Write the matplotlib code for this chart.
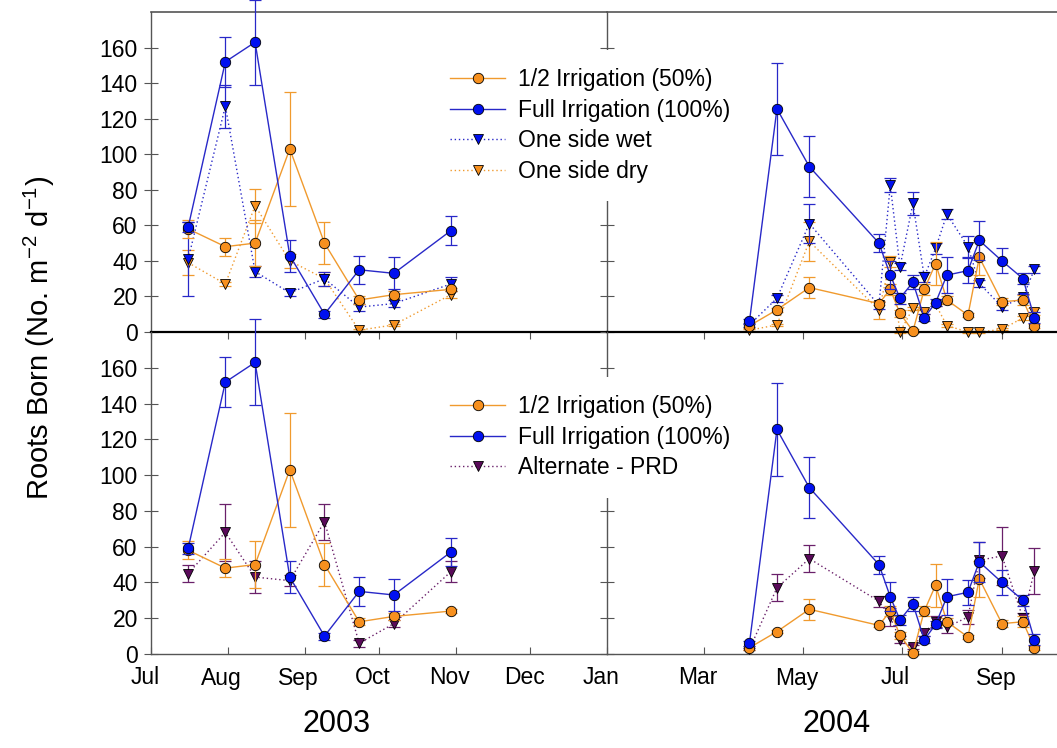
import numpy as np
import pandas as pd
import matplotlib
matplotlib.use("Agg")
import matplotlib.pyplot as plt
from matplotlib.transforms import ScaledTranslation

plt.rcParams['font.family'] = ['Liberation Sans', 'DejaVu Sans']
plt.rcParams['mathtext.fontset'] = 'custom'
plt.rcParams['mathtext.rm'] = 'Liberation Sans'
plt.rcParams['mathtext.default'] = 'regular'

# ---------------- data ----------------
dates_2003 = pd.to_datetime(['2003-07-16', '2003-07-31', '2003-08-12', '2003-08-26',
                             '2003-09-09', '2003-09-23', '2003-10-07', '2003-10-30'])
half_2003 = [58, 48, 50, 103, 50, 18, 21, 24]
half_2003_err = [5, 5, 13, 32, 12, 2, 2, 1]
full_2003 = [59, 152, 163, 43, 10, 35, 33, 57]
full_2003_err = [3, 14, 24, 9, 2, 8, 9, 8]
wet_2003 = [41, 127, 34, 22, 30, 14, 16, 27]
wet_2003_err = [21, 12, 3, 2, 4, 2, 2, 4]
dry_2003 = [39, 27, 71, 40, 30, 1, 4, 21]
dry_2003_err = [7, 1, 9.5, 4, 4, 0.5, 0.5, 2]
prd_2003 = [45, 68, 43, 41, 74, 6, 17, 46]
prd_2003_err = [5, 16, 9, 3, 10, 2, 2, 6]

dates_2004 = pd.to_datetime(['2004-03-29', '2004-04-15', '2004-05-05', '2004-06-17',
                             '2004-06-24', '2004-06-30', '2004-07-08', '2004-07-15',
                             '2004-07-22', '2004-07-29', '2004-08-11', '2004-08-18',
                             '2004-09-01', '2004-09-14', '2004-09-21'])
half_2004 = [3.5, 12.5, 25, 16, 24, 10.5, 0.5, 24, 38.5, 18, 9.5, 42, 17, 18, 3.5]
half_2004_err = [1, 1, 6, 1, 3, 2, 1, 3, 12, 2, 1, 10, 2, 3, 1]
full_2004 = [6, 125.5, 93, 50, 32, 19, 28, 8, 16.5, 32, 34.5, 51.5, 40, 30, 8]
full_2004_err = [1.5, 26, 17, 5, 8, 3, 4, 2, 2, 10, 7, 11, 7, 3, 3]
wet_2004 = [4, 19, 61, 15, 82.6, 36.7, 72.3, 31, 47, 66.3, 48, 27.3, 14.2, 19.5, 35.2]
wet_2004_err = [1, 2, 11, 2, 4, 2, 6.5, 3, 3, 3, 6, 2, 2, 2, 2]
dry_2004 = [1, 4, 51, 12.4, 39.5, 0, 13.3, 11.4, 15.5, 3.6, 0, 0, 1.5, 8, 11.4]
dry_2004_err = [0.5, 0.5, 11, 5, 3, 0.5, 1, 1, 1, 1, 0.5, 0.5, 0.5, 1, 2]
prd_2004 = [2.6, 37, 53.3, 29.5, 20.5, 8, 4, 12, 18, 15, 20.7, 52.4, 54.8, 20, 46.4]
prd_2004_err = [0.5, 7.5, 7.5, 3, 5, 2, 1, 2, 3, 3, 4, 10, 16, 3, 13]

labels_top = ['1/2 Irrigation (50%)', 'Full Irrigation (100%)', 'One side wet', 'One side dry']
labels_bottom = ['1/2 Irrigation (50%)', 'Full Irrigation (100%)', 'Alternate - PRD']

months_2003 = pd.to_datetime(['2003-07-01', '2003-08-01', '2003-09-01', '2003-10-01',
                              '2003-11-01', '2003-12-01'])
month_labels_2003 = ['Jul', 'Aug', 'Sep', 'Oct', 'Nov', 'Dec']
months_2004 = pd.to_datetime(['2004-01-01', '2004-03-01', '2004-05-01', '2004-07-01', '2004-09-01'])
month_labels_2004 = ['Jan', 'Mar', 'May', 'Jul', 'Sep']
yticks = list(range(0, 161, 20))

# ---------------- styles ----------------
OR_LINE, OR_FACE = '#F09A2E', '#F7901E'
BL_LINE, BL_FACE = '#2828C8', '#0010F0'
PU_LINE, PU_FACE = '#6A206A', '#5A0A5A'
GRAY = '#555555'
DOT = (0, (1, 2))
FS = 16.5

fig = plt.figure(figsize=(10.57, 7.48), dpi=100)
L, M, R = 151 / 1057, 607 / 1057, 1.0
top_b, top_t = 1 - 332 / 748, 1 - 12 / 748
bot_b = 1 - 654 / 748
axTL = fig.add_axes([L, top_b, M - L, top_t - top_b])
axTR = fig.add_axes([M, top_b, R - M, top_t - top_b])
axBL = fig.add_axes([L, bot_b, M - L, top_b - bot_b])
axBR = fig.add_axes([M, bot_b, R - M, top_b - bot_b])


def series(ax, x, y, err, lcol, fcol, ls, marker, label, z):
    eb = ax.errorbar(x, y, yerr=err, fmt='none', ecolor=lcol, elinewidth=0.9,
                     capsize=4.5, capthick=0.9, zorder=z)
    for a in list(eb.lines[1]) + list(eb.lines[2]):
        a.set_clip_on(False)
    h, = ax.plot(x, y, ls=ls, color=lcol, lw=1.0, marker=marker, ms=7.5 if marker == 'o' else 7,
                 mfc=fcol, mec='black', mew=0.6, label=label, zorder=z + 0.5)
    h.set_clip_on(False)
    return h


handles_top = []
for ax, d, half, he, full, fe, wet, we, dry, de in [
        (axTL, dates_2003, half_2003, half_2003_err, full_2003, full_2003_err,
         wet_2003, wet_2003_err, dry_2003, dry_2003_err),
        (axTR, dates_2004, half_2004, half_2004_err, full_2004, full_2004_err,
         wet_2004, wet_2004_err, dry_2004, dry_2004_err)]:
    h4 = series(ax, d, dry, de, OR_LINE, OR_FACE, DOT, 'v', labels_top[3], 2)
    h3 = series(ax, d, wet, we, BL_LINE, BL_FACE, DOT, 'v', labels_top[2], 3)
    h1 = series(ax, d, half, he, OR_LINE, OR_FACE, '-', 'o', labels_top[0], 4)
    h2 = series(ax, d, full, fe, BL_LINE, BL_FACE, '-', 'o', labels_top[1], 5)
    handles_top = [h1, h2, h3, h4]

handles_bot = []
for ax, d, half, he, full, fe, prd, pe in [
        (axBL, dates_2003, half_2003, half_2003_err, full_2003, full_2003_err, prd_2003, prd_2003_err),
        (axBR, dates_2004, half_2004, half_2004_err, full_2004, full_2004_err, prd_2004, prd_2004_err)]:
    h3 = series(ax, d, prd, pe, PU_LINE, PU_FACE, DOT, 'v', labels_bottom[2], 3)
    h1 = series(ax, d, half, he, OR_LINE, OR_FACE, '-', 'o', labels_bottom[0], 4)
    h2 = series(ax, d, full, fe, BL_LINE, BL_FACE, '-', 'o', labels_bottom[1], 5)
    handles_bot = [h1, h2, h3]

# ---------------- axes formatting ----------------
for ax in (axTL, axBL):
    ax.set_xlim(pd.Timestamp('2003-07-01'), pd.Timestamp('2004-01-01'))
for ax in (axTR, axBR):
    ax.set_xlim(pd.Timestamp('2004-01-01'), pd.Timestamp('2004-10-05'))

for ax in (axTL, axTR, axBL, axBR):
    ax.set_ylim(0, 180)
    ax.set_yticks(yticks)
    ax.tick_params(axis='y', direction='inout', length=10, width=0.8, color=GRAY,
                   labelsize=FS, pad=4.5)
    ax.spines['right'].set_visible(False)
    ax.spines['left'].set_color(GRAY)
    ax.spines['left'].set_linewidth(1.0)
    ax.set_facecolor('none')

for ax in (axTR, axBR):
    ax.tick_params(axis='y', labelleft=False)

for ax in (axTL, axTR):
    ax.spines['top'].set_color(GRAY)
    ax.spines['top'].set_linewidth(1.2)
    ax.spines['bottom'].set_color('black')
    ax.spines['bottom'].set_linewidth(1.6)
    ax.tick_params(axis='x', direction='out', length=5, width=0.8, color=GRAY,
                   labelbottom=False)

for ax in (axBL, axBR):
    ax.spines['top'].set_visible(False)
    ax.spines['bottom'].set_color(GRAY)
    ax.spines['bottom'].set_linewidth(1.0)
    ax.tick_params(axis='x', direction='in', length=5, width=0.8, color=GRAY,
                   labelsize=FS, pad=9)

axTL.set_xticks(months_2003)
axTR.set_xticks(months_2004[1:])
axBL.set_xticks(months_2003)
axBL.set_xticklabels(month_labels_2003)
axBR.set_xticks(months_2004)
axBR.set_xticklabels(month_labels_2004)

offset = ScaledTranslation(-6 / 100, 0, fig.dpi_scale_trans)
for ax in (axBL, axBR):
    for lab in ax.get_xticklabels():
        lab.set_transform(lab.get_transform() + offset)

# ---------------- legends ----------------
leg_kw = dict(loc='upper left', fontsize=FS, frameon=True, facecolor='white',
              edgecolor='none', framealpha=1.0, handlelength=2.4, handletextpad=0.55,
              labelspacing=0.33, borderaxespad=0, fancybox=False, borderpad=0.8)
leg1 = fig.legend(handles=handles_top, labels=labels_top,
                  bbox_to_anchor=(432 / 1057, 1 - 50 / 748), **leg_kw)
leg2 = fig.legend(handles=handles_bot, labels=labels_bottom,
                  bbox_to_anchor=(432 / 1057, 1 - 377 / 748), **leg_kw)

# ---------------- labels ----------------
fig.text(39 / 1057, 1 - 338 / 748, 'Roots Born (No. m$^{-2}$ d$^{-1}$)', rotation=90,
         ha='center', va='center', fontsize=21)
fig.text(337 / 1057, 1 - 724 / 748, '2003', ha='center', va='center', fontsize=22)
fig.text(837 / 1057, 1 - 724 / 748, '2004', ha='center', va='center', fontsize=22)

fig.savefig('out.png', dpi=100)
